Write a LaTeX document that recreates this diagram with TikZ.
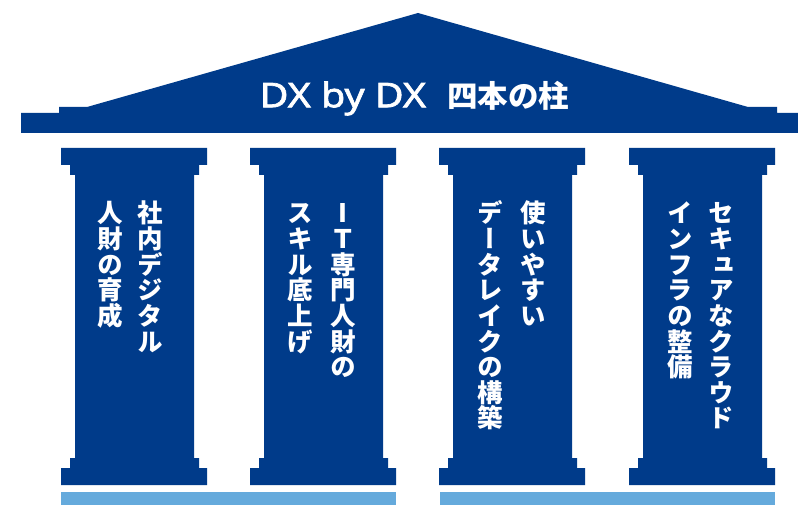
\documentclass[tikz,border=0pt]{standalone}
\usepackage{fontspec}
\newfontfamily\jp{Noto Sans CJK JP}
\newfontfamily\jpv{Noto Sans CJK JP}[RawFeature=+vert]
\newfontfamily\lat{Noto Sans}[FakeBold=2, FakeStretch=1.16]
\definecolor{navy}{HTML}{003B8A}
\definecolor{lightbar}{HTML}{65AADC}
\tikzset{
  vch/.style={anchor=base, inner sep=0pt, text=white, font=\jpv\bfseries\fontsize{25.5}{25.6}\selectfont},
  titlelat/.style={anchor=base west, inner sep=0pt, text=white, font=\lat\fontsize{34}{36}\selectfont},
  titlejp/.style={anchor=base east, inner sep=0pt, text=white, font=\jp\bfseries\fontsize{30.5}{33}\selectfont},
}
\newcommand\jvtext[4]{\foreach \ch [count=\k from 0] in {#4} {\node[vch] (#1\k) at (#2,{#3+25.6*\k}) {\ch};}}
\begin{document}
\begin{tikzpicture}[x=1pt,y=-1pt]
\useasboundingbox (0,0) rectangle (798,505);
% roof
\fill[navy] (21,133) -- (21,113) -- (59,113) -- (59,107) -- (87,107) -- (418,13) -- (748,107) -- (777,107) -- (777,113) -- (798,113) -- (798,133) -- cycle;
\node[titlelat] (title1) at (259.5,107.3) {DX by DX};
\node[titlejp] (title2) at (569.5,107.3) {四本の柱};
% pillars
\foreach \L in {61,250,439,629}{
  \begin{scope}[shift={(\L,0)}]
  \fill[navy] (0,148) -- (146,148) -- (146,165) -- (138,165) -- (138,175) -- (133,175) -- (133,458) -- (138,458) -- (138,468) -- (146,468) -- (146,485) -- (0,485) -- (0,468) -- (9,468) -- (9,458) -- (14,458) -- (14,175) -- (9,175) -- (9,165) -- (0,165) -- cycle;
  \end{scope}
}
% base bars
\fill[lightbar] (61,492) rectangle (396,505);
\fill[lightbar] (440,492) rectangle (775,505);
% texts
\jvtext{ar}{150.5}{223}{社,内,デ,ジ,タ,ル}
\jvtext{al}{110}{223}{人,財,の,育,成}
\jvtext{br}{343}{223}{I,Ｔ,専,門,人,財,の}
\jvtext{bl}{300.5}{223}{ス,キ,ル,底,上,げ}
\jvtext{cr}{533}{223}{使,い,や,す,い}
\jvtext{cl}{490.5}{223}{デ,ー,タ,レ,イ,ク,の,構,築}
\jvtext{dr}{721.7}{223}{セ,キ,ュ,ア,な,ク,ラ,ウ,ド}
\jvtext{dl}{680}{223}{イ,ン,フ,ラ,の,整,備}
\end{tikzpicture}
\end{document}
